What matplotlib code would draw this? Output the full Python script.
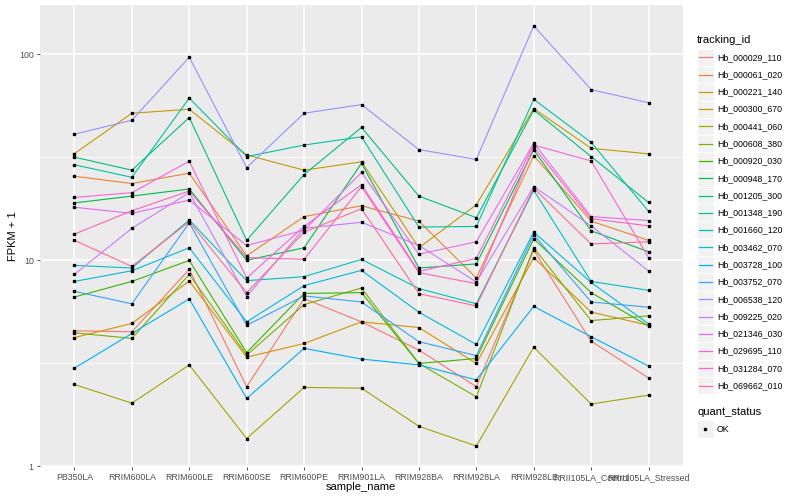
import numpy as np
import matplotlib.pyplot as plt
from matplotlib.patches import Rectangle
from matplotlib.ticker import FixedLocator, NullFormatter

plt.rcParams['font.family'] = ['Liberation Sans', 'DejaVu Sans']

samples = ["PB350LA", "RRIM600LA", "RRIM600LE", "RRIM600SE", "RRIM600PE",
           "RRIM901LA", "RRIM928BA", "RRIM928LA", "RRIM928LE",
           "RRII105LA_Control", "RRII105LA_Stressed"]

tracking_ids = ["Hb_000029_110", "Hb_000061_020", "Hb_000221_140", "Hb_000300_670",
                "Hb_000441_060", "Hb_000608_380", "Hb_000920_030", "Hb_000948_170",
                "Hb_001205_300", "Hb_001348_190", "Hb_001660_120", "Hb_003462_070",
                "Hb_003728_100", "Hb_003752_070", "Hb_006538_120", "Hb_009225_020",
                "Hb_021346_030", "Hb_029695_110", "Hb_031284_070", "Hb_069662_010"]

# ggplot default hue palette for 20 levels
colors = ["#F8766D", "#EA8331", "#D89000", "#C09B00", "#A3A500", "#7CAE00",
          "#39B600", "#00BB4E", "#00BF7D", "#00C1A3", "#00BFC4", "#00BAE0",
          "#00B0F6", "#35A2FF", "#9590FF", "#C77CFF", "#E76BF3", "#FA62DB",
          "#FF62BC", "#FF6C91"]

# FPKM + 1 per sample
hb_000029_110 = [4.54, 4.49, 9.03, 2.43, 6.51, 5.02, 3.66, 2.43, 11.2, 4.04, 2.68]
hb_000061_020 = [25.6, 23.6, 26.5, 10.5, 16.3, 18.4, 15.5, 8.2, 32.2, 15.5, 12.5]
hb_000221_140 = [4.21, 4.93, 7.93, 3.38, 3.94, 5.02, 4.71, 3.15, 10.3, 5.60, 4.83]
hb_000300_670 = [33.0, 51.8, 54.2, 32.5, 27.4, 30.1, 11.5, 18.6, 54.6, 35.0, 32.9]
hb_000441_060 = [2.49, 2.02, 3.10, 1.36, 2.41, 2.39, 1.56, 1.25, 3.78, 2.00, 2.21]
hb_000608_380 = [4.44, 4.17, 8.53, 3.46, 6.09, 7.33, 3.15, 2.17, 11.5, 5.09, 5.37]
hb_000920_030 = [6.63, 7.89, 9.98, 3.56, 6.90, 6.96, 3.15, 3.33, 12.7, 6.96, 4.79]
hb_000948_170 = [19.0, 20.5, 22.2, 10.0, 11.5, 29.6, 9.17, 9.6, 34.4, 13.9, 11.0]
hb_001205_300 = [31.7, 27.4, 49.4, 12.5, 26.1, 44.2, 20.5, 16.1, 53.7, 31.9, 19.1]
hb_001348_190 = [29.1, 25.3, 61.4, 31.9, 36.3, 39.8, 14.5, 14.6, 60.5, 37.4, 17.3]
hb_001660_120 = [9.44, 9.17, 15.7, 7.96, 8.32, 10.1, 7.28, 6.15, 21.9, 7.89, 7.14]
hb_003462_070 = [7.89, 8.89, 11.5, 5.02, 7.53, 8.93, 5.59, 3.90, 13.7, 7.8, 4.91]
hb_003728_100 = [2.99, 4.41, 6.49, 2.13, 3.73, 3.31, 3.10, 2.62, 5.97, 4.25, 3.06]
hb_003752_070 = [7.06, 6.14, 15.2, 4.83, 6.71, 6.27, 4.02, 3.44, 13.3, 6.27, 5.91]
hb_006538_120 = [41.0, 47.9, 97.0, 28.2, 51.8, 57.1, 34.5, 30.9, 137.8, 67.5, 58.3]
hb_009225_020 = [8.54, 14.3, 21.3, 6.66, 14.3, 15.3, 11.8, 7.84, 22.8, 14.7, 8.87]
hb_021346_030 = [18.1, 16.9, 19.6, 11.8, 14.0, 26.7, 10.7, 12.3, 37.1, 16.3, 15.6]
hb_029695_110 = [20.2, 21.3, 30.3, 8.2, 14.6, 23.3, 8.83, 10.2, 36.3, 30.4, 10.3]
hb_031284_070 = [13.4, 17.4, 21.7, 10.3, 10.1, 22.8, 8.7, 7.7, 35.4, 15.9, 14.7]
hb_069662_010 = [12.5, 9.33, 15.4, 6.96, 13.7, 17.8, 6.88, 6.0, 22.4, 12.0, 12.3]

series = [hb_000029_110, hb_000061_020, hb_000221_140, hb_000300_670, hb_000441_060,
          hb_000608_380, hb_000920_030, hb_000948_170, hb_001205_300, hb_001348_190,
          hb_001660_120, hb_003462_070, hb_003728_100, hb_003752_070, hb_006538_120,
          hb_009225_020, hb_021346_030, hb_029695_110, hb_031284_070, hb_069662_010]

fig = plt.figure(figsize=(8, 5), dpi=100)
ax = fig.add_axes([40 / 800, 33 / 500, 643 / 800, 462 / 500])
ax.set_facecolor('#EBEBEB')

x = np.arange(len(samples))
for vals, col in zip(series, colors):
    ax.plot(x, vals, color=col, lw=0.8, zorder=2)
for vals in series:
    ax.plot(x, vals, 's', color='black', ms=2.1, zorder=3)

ax.set_yscale('log')
ax.set_ylim(0.989, 174)
ax.set_xlim(-0.6, 10.6)
ax.set_yticks([1, 10, 100])
ax.set_yticklabels(['1', '10', '100'])
ax.yaxis.set_minor_locator(FixedLocator([10 ** 0.5, 10 ** 1.5]))
ax.yaxis.set_minor_formatter(NullFormatter())
ax.set_xticks(x)
ax.set_xticklabels(samples)

ax.set_axisbelow(True)
ax.grid(which='major', color='white', lw=1.1)
ax.grid(which='minor', axis='y', color='white', lw=0.55)
ax.tick_params(which='minor', length=0)
ax.tick_params(which='major', length=2.5, width=0.6, color='#333333',
               labelsize=6.3, labelcolor='#4D4D4D', pad=2)
for s in ax.spines.values():
    s.set_visible(False)

fig.text(361 / 800, 1 - 487 / 500, 'sample_name', ha='center', va='center', fontsize=8)
fig.text(13 / 800, 1 - 236 / 500, 'FPKM + 1', ha='center', va='center',
         rotation=90, fontsize=8)

# legend drawn in pixel coordinates
lax = fig.add_axes([0, 0, 1, 1], facecolor='none')
lax.set_xlim(0, 800)
lax.set_ylim(500, 0)
lax.axis('off')

lax.text(697, 40, 'tracking_id', fontsize=8, ha='left', va='center')
y0, dy = 57.3, 17.28
for i, (tid, col) in enumerate(zip(tracking_ids, colors)):
    yc = y0 + i * dy
    lax.add_patch(Rectangle((697, yc - dy / 2), 16.5, dy, facecolor='#F2F2F2',
                            edgecolor='white', lw=0.8))
    lax.plot([698.5, 711.5], [yc, yc], color=col, lw=0.9)
    lax.text(717, yc, tid, fontsize=6.3, ha='left', va='center')

lax.text(697, 412, 'quant_status', fontsize=8, ha='left', va='center')
lax.add_patch(Rectangle((697, 429 - dy / 2), 16.5, dy, facecolor='#F2F2F2',
                        edgecolor='white', lw=0.8))
lax.plot([705.2], [429], 's', color='black', ms=2.1)
lax.text(717, 429, 'OK', fontsize=6.3, ha='left', va='center')

fig.savefig('out.png', dpi=100)
